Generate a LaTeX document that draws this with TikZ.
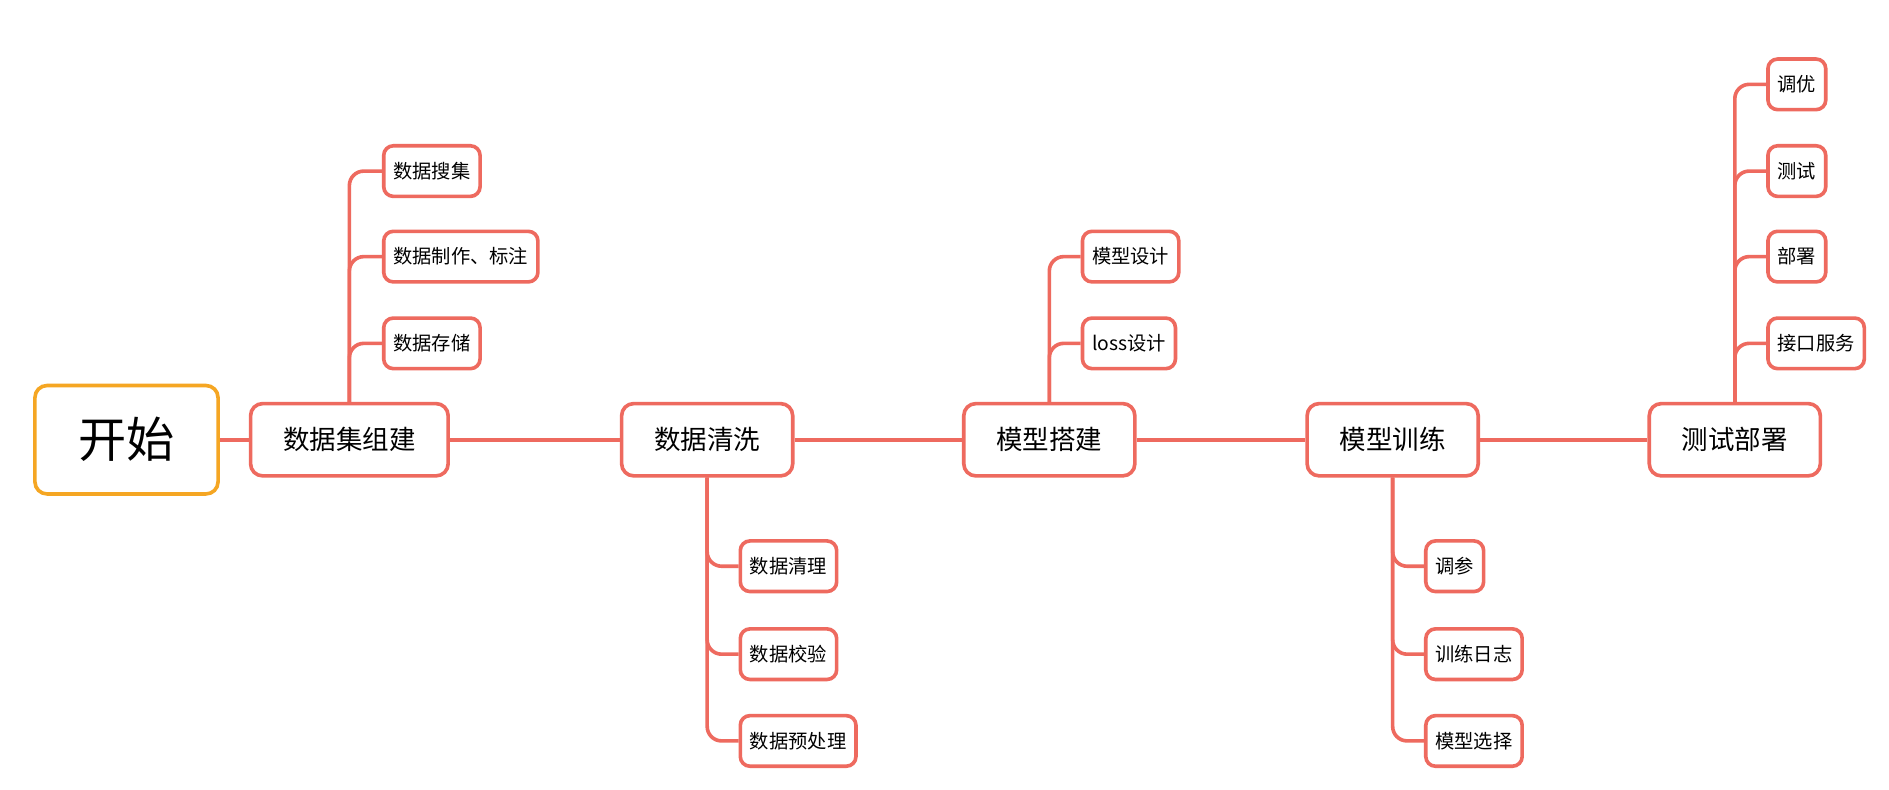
\documentclass[tikz,border=0pt]{standalone}
\usepackage{fontspec}
\newfontfamily\cjk{Noto Sans CJK SC}
\definecolor{linered}{HTML}{EE6A5F}
\definecolor{startorange}{HTML}{F5A623}
\tikzset{
  mainbox/.style={draw=linered,line width=1.5pt,rounded corners=5pt,fill=white,font=\cjk\fontsize{11}{13}\selectfont,minimum width=71pt,minimum height=30pt},
  subbox/.style={draw=linered,line width=1.5pt,rounded corners=4pt,fill=white,font=\cjk\fontsize{8}{10}\selectfont,minimum height=21pt,inner xsep=4pt,anchor=west},
  branch/.style={draw=linered,line width=1.5pt,rounded corners=6pt}
}
\begin{document}
\begin{tikzpicture}[x=0.5pt,y=-0.5pt]
\useasboundingbox[fill=white] (0,0) rectangle (1568,655);
% main line
\node[mainbox,draw=startorange,minimum width=76pt,minimum height=45pt,font=\cjk\fontsize{20}{22}\selectfont](START) at (105,365){开始};
\node[mainbox,minimum width=82pt](DS) at (290,365){数据集组建};
\node[mainbox](CL) at (587,365){数据清洗};
\node[mainbox](MB) at (871,365){模型搭建};
\node[mainbox](MT) at (1156,365){模型训练};
\node[mainbox](TD) at (1440,365){测试部署};
\draw[branch](START)--(DS)--(CL)--(MB)--(MT)--(TD);
% sub nodes
\node[subbox](DS1) at (317,142){数据搜集};
\node[subbox](DS2) at (317,213){数据制作、标注};
\node[subbox](DS3) at (317,285){数据存储};
\node[subbox](CL1) at (613,470){数据清理};
\node[subbox](CL2) at (613,543){数据校验};
\node[subbox](CL3) at (613,615){数据预处理};
\node[subbox](MB1) at (897,213){模型设计};
\node[subbox](MB2) at (897,285){loss设计};
\node[subbox](MT1) at (1182,470){调参};
\node[subbox](MT2) at (1182,543){训练日志};
\node[subbox](MT3) at (1182,615){模型选择};
\node[subbox](TD1) at (1466,70){调优};
\node[subbox](TD2) at (1466,142){测试};
\node[subbox](TD3) at (1466,213){部署};
\node[subbox](TD4) at (1466,285){接口服务};
\foreach \p/\c in {DS/DS1,DS/DS2,DS/DS3,MB/MB1,MB/MB2,TD/TD1,TD/TD2,TD/TD3,TD/TD4}
  \draw[branch](\p.north)|-(\c.west);
\foreach \p/\c in {CL/CL1,CL/CL2,CL/CL3,MT/MT1,MT/MT2,MT/MT3}
  \draw[branch](\p.south)|-(\c.west);
\end{tikzpicture}
\end{document}
